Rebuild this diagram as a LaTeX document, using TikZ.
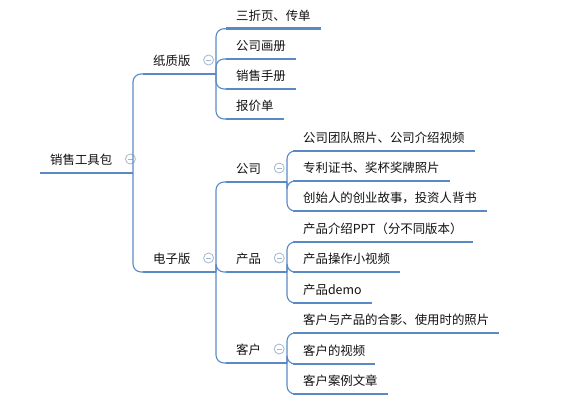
\documentclass[tikz,border=0pt]{standalone}
\usepackage{fontspec}
\setmainfont{Noto Sans CJK SC}
\usepackage{xcolor}
\usepackage{tikz}
\usetikzlibrary{calc}
\definecolor{mapBlue}{HTML}{5A8AC6}
\definecolor{foldGrey}{HTML}{A3B6D0}
\definecolor{mapText}{HTML}{111111}
\tikzset{
  topic/.style={anchor=south west, inner xsep=10pt, inner ysep=6pt, text height=9.5pt, text depth=2.5pt, text=mapText, font=\fontsize{12.4}{14}\selectfont},
  uline/.style={draw=mapBlue, line width=2.6pt},
  branch/.style={draw=mapBlue, line width=1.1pt, rounded corners=8pt},
  fold/.style={circle, draw=foldGrey, line width=0.8pt, minimum size=10pt, inner sep=0pt,
    path picture={\draw[foldGrey, line width=0.8pt] ([xshift=-2.5pt]path picture bounding box.center) -- ([xshift=2.5pt]path picture bounding box.center);}},
}
\begin{document}
\begin{tikzpicture}[x=1pt,y=-1pt]
  \useasboundingbox (0,0) rectangle (565,402);

  \node[topic] (root) at (40,173) {销售工具包};

  \node[topic] (paper)   at (143,74)  {纸质版};
  \node[topic] (digital) at (143,272) {电子版};

  \node[topic] (fold3)   at (226,28.7) {三折页、传单};
  \node[topic] (album)   at (226,59)   {公司画册};
  \node[topic] (manual)  at (226,89)   {销售手册};
  \node[topic] (quote)   at (226,119)  {报价单};

  \node[topic] (company) at (226,182) {公司};
  \node[topic] (product) at (226,272) {产品};
  \node[topic] (client)  at (226,363) {客户};

  \node[topic] (team)    at (293,151) {公司团队照片、公司介绍视频};
  \node[topic] (patent)  at (293,181) {专利证书、奖杯奖牌照片};
  \node[topic] (founder) at (293,211) {创始人的创业故事，投资人背书};

  \node[topic] (ppt)     at (293,242) {产品介绍PPT（分不同版本）};
  \node[topic] (howto)   at (293,272) {产品操作小视频};
  \node[topic] (demo)    at (293,303) {产品demo};

  \node[topic] (photo)   at (293,333) {客户与产品的合影、使用时的照片};
  \node[topic] (video)   at (293,364) {客户的视频};
  \node[topic] (story)   at (293,394) {客户案例文章};

  % junctions on the spines
  \coordinate (j-root)    at (133,173);
  \coordinate (j-paper)   at (216,74);
  \coordinate (j-digital) at (216,272);
  \coordinate (j-company) at (287,182);
  \coordinate (j-product) at (287,272);
  \coordinate (j-client)  at (287,363);

  \foreach \n in {root,paper,digital,fold3,album,manual,quote,company,product,client,team,patent,founder,ppt,howto,demo,photo,video,story}
    { \draw[uline] (\n.south west) -- (\n.south east); }

  \foreach \p in {root,paper,digital,company,product,client}
    { \draw[branch] (\p.south east) -- (j-\p);
      \node[fold] (f-\p) at ($(\p.south east)+(8,-14)$) {}; }

  \foreach \c in {paper,digital} { \draw[branch] (j-root) |- (\c.south west); }
  \foreach \c in {fold3,album,manual,quote} { \draw[branch] (j-paper) |- (\c.south west); }
  \foreach \c in {company,product,client} { \draw[branch] (j-digital) |- (\c.south west); }
  \foreach \c in {team,patent,founder} { \draw[branch] (j-company) |- (\c.south west); }
  \foreach \c in {ppt,howto,demo} { \draw[branch] (j-product) |- (\c.south west); }
  \foreach \c in {photo,video,story} { \draw[branch] (j-client) |- (\c.south west); }
\end{tikzpicture}
\end{document}
